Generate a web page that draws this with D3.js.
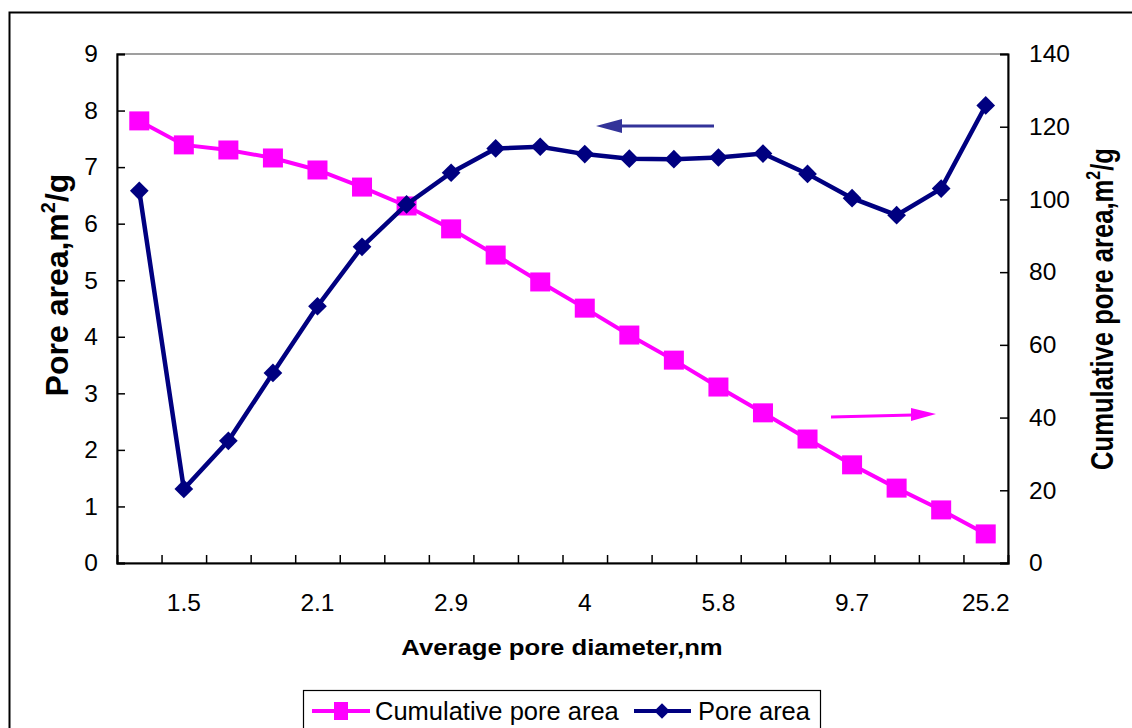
<!DOCTYPE html>
<html>
<head>
<meta charset="utf-8">
<script src="https://cdn.jsdelivr.net/npm/d3@7/dist/d3.min.js"></script>
<style>
  body { margin: 0; background: #fff; }
  svg { display: block; font-family: "Liberation Sans", Arial, sans-serif; }
</style>
</head>
<body>
<svg id="chart" width="1132" height="728"></svg>
<script>
// ---- data ----
const categories = ["1.3","1.5","1.6","1.8","2.0","2.1","2.3","2.6","2.9","3.2","3.5","4","4.5","5.1","5.8","6.8","8.1","9.7","13.1","25.2"];
const tickLabelIdx = [1, 4, 7, 10, 13, 16, 19];
const tickLabels = ["1.5", "2.1", "2.9", "4", "5.8", "9.7", "25.2"];
const cumulativeArea = [121.6, 115.0, 113.6, 111.4, 108.1, 103.4, 98.2, 91.9, 84.7, 77.3, 70.1, 62.7, 55.8, 48.4, 41.3, 34.1, 27.0, 20.6, 14.6, 8.0];
const poreArea = [6.58, 1.31, 2.16, 3.36, 4.54, 5.59, 6.34, 6.90, 7.33, 7.36, 7.23, 7.15, 7.14, 7.17, 7.24, 6.88, 6.45, 6.15, 6.62, 8.09];
const leftTicks = [0,1,2,3,4,5,6,7,8,9];
const rightTicks = [0,20,40,60,80,100,120,140];

const svg = d3.select("#chart");
const plot = {left: 117, right: 1008, top: 54, bottom: 563};
const FONT = "Liberation Sans, Arial, sans-serif";

// outer border (cut at right/bottom)
svg.append("rect").attr("x", 9.5).attr("y", 12.5).attr("width", 1140).attr("height", 740)
  .attr("fill", "none").attr("stroke", "#000").attr("stroke-width", 2);

const x = d3.scaleBand().domain(d3.range(categories.length)).range([plot.left, plot.right]).padding(0);
const yL = d3.scaleLinear().domain([0, 9]).range([plot.bottom, plot.top]);
const yR = d3.scaleLinear().domain([0, 140]).range([plot.bottom, plot.top]);
const cx = i => x(i) + x.bandwidth() / 2;

// plot area border
svg.append("rect").attr("x", plot.left).attr("y", plot.top)
  .attr("width", plot.right - plot.left).attr("height", plot.bottom - plot.top)
  .attr("fill", "none").attr("stroke", "#808080").attr("stroke-width", 1.5);

// left axis
const gL = svg.append("g").attr("transform", `translate(${plot.left},0)`)
  .call(d3.axisLeft(yL).tickValues(leftTicks).tickSize(-8).tickPadding(19).tickFormat(d3.format("d")));
// right axis
const gR = svg.append("g").attr("transform", `translate(${plot.right},0)`)
  .call(d3.axisRight(yR).tickValues(rightTicks).tickSize(-8).tickPadding(21).tickFormat(d3.format("d")));
// bottom axis: ticks at category boundaries
const gB = svg.append("g").attr("transform", `translate(0,${plot.bottom})`)
  .call(d3.axisBottom(d3.scaleLinear().domain([0, categories.length]).range([plot.left, plot.right]))
    .tickValues(d3.range(1, categories.length)).tickSize(-8).tickFormat(""));
[gL, gR, gB].forEach(g => {
  g.attr("font-size", 24.5).attr("font-family", FONT);
  g.select(".domain").attr("stroke", "#000").attr("stroke-width", 2);
  g.selectAll(".tick line").attr("stroke", "#000").attr("stroke-width", 1.5);
  g.selectAll("text").attr("fill", "#000");
});

// x tick labels
svg.append("g").selectAll("text").data(tickLabelIdx).join("text")
  .attr("x", d => cx(d)).attr("y", 611)
  .attr("text-anchor", "middle").attr("font-size", 24.5).attr("fill", "#000")
  .text((d, i) => tickLabels[i]);

// axis titles
svg.append("text").attr("transform", "translate(562,655) scale(1.167,1)").attr("text-anchor", "middle")
  .attr("font-size", 22).attr("font-weight", "bold").text("Average pore diameter,nm");

const lt = svg.append("text").attr("transform", "translate(68,285) rotate(-90)")
  .attr("text-anchor", "middle").attr("font-size", 32).attr("font-weight", "bold");
lt.append("tspan").text("Pore area,m");
lt.append("tspan").attr("font-size", 20).attr("dy", -13).text("2");
lt.append("tspan").attr("dy", 13).text("/g");

const rt = svg.append("text").attr("transform", "translate(1113,309) rotate(-90) scale(0.8,1)")
  .attr("text-anchor", "middle").attr("font-size", 32).attr("font-weight", "bold");
rt.append("tspan").text("Cumulative pore area,m");
rt.append("tspan").attr("font-size", 20).attr("dy", -13).text("2");
rt.append("tspan").attr("dy", 13).text("/g");

// series
const pink = "#FF00FF", navy = "#000080";
const lineCum = d3.line().x((d, i) => cx(i)).y(d => yR(d));
const linePore = d3.line().x((d, i) => cx(i)).y(d => yL(d));

svg.append("path").datum(cumulativeArea).attr("d", lineCum)
  .attr("fill", "none").attr("stroke", pink).attr("stroke-width", 4);
svg.append("g").selectAll("rect").data(cumulativeArea).join("rect")
  .attr("x", (d, i) => cx(i) - 10).attr("y", d => yR(d) - 9.5)
  .attr("width", 20).attr("height", 19).attr("fill", pink);

svg.append("path").datum(poreArea).attr("d", linePore)
  .attr("fill", "none").attr("stroke", navy).attr("stroke-width", 4.5);
const diamond = d3.symbol().type(d3.symbolSquare).size(175);
svg.append("g").selectAll("path").data(poreArea).join("path")
  .attr("d", diamond)
  .attr("transform", (d, i) => `translate(${cx(i)},${yL(d)}) rotate(45)`)
  .attr("fill", navy);

// arrows
svg.append("line").attr("x1", 714).attr("y1", 126).attr("x2", 620).attr("y2", 126)
  .attr("stroke", "#333399").attr("stroke-width", 3);
svg.append("path").attr("d", "M596,126 L622,119 L622,133 Z").attr("fill", "#333399");

svg.append("line").attr("x1", 831).attr("y1", 417).attr("x2", 913).attr("y2", 415)
  .attr("stroke", pink).attr("stroke-width", 3);
svg.append("path").attr("d", "M936,414 L911,408 L911,421 Z").attr("fill", pink);

// legend
const lg = svg.append("g");
lg.append("rect").attr("x", 303.5).attr("y", 690.5).attr("width", 517).attr("height", 50)
  .attr("fill", "#fff").attr("stroke", "#000").attr("stroke-width", 1.2);
lg.append("line").attr("x1", 312).attr("x2", 370).attr("y1", 711).attr("y2", 711)
  .attr("stroke", pink).attr("stroke-width", 4);
lg.append("rect").attr("x", 334).attr("y", 702).attr("width", 14).attr("height", 18).attr("fill", pink);
lg.append("text").attr("x", 375).attr("y", 720).attr("font-size", 25.5).text("Cumulative pore area");
lg.append("line").attr("x1", 634).attr("x2", 691).attr("y1", 711).attr("y2", 711)
  .attr("stroke", navy).attr("stroke-width", 4);
lg.append("path").attr("d", d3.symbol().type(d3.symbolSquare).size(120)).attr("transform", "translate(662,711) rotate(45)").attr("fill", navy);
lg.append("text").attr("x", 698).attr("y", 720).attr("font-size", 25.5).text("Pore area");
</script>
</body>
</html>
